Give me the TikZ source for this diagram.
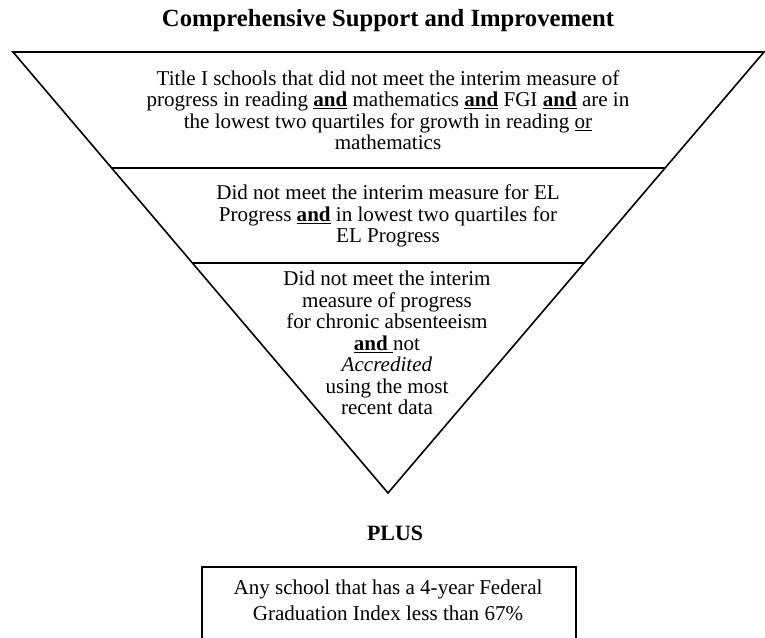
\documentclass[tikz,border=0pt]{standalone}
\usepackage{fontspec}
\setmainfont{Liberation Serif}
\usetikzlibrary{calc}

\tikzset{
  bodytext/.style={align=center,inner sep=0pt,font=\fontsize{15.8}{16.1}\selectfont},
  headtext/.style={inner sep=0pt,font=\fontsize{18.5}{20}\selectfont\bfseries},
}

\begin{document}
\begin{tikzpicture}[x=0.75pt,y=-0.75pt]
\useasboundingbox (0,0) rectangle (765,638);
\clip (0,0) rectangle (765,638);

\node[headtext] (title) at (388,21) {Comprehensive Support and Improvement};

% inverted triangle
\coordinate (tl) at (13,52);
\coordinate (tr) at (764,52);
\coordinate (apex) at (388,493);
\draw[line width=1.2pt,line join=miter] (tl) -- (tr) -- (apex) -- cycle;
\draw[line width=1.2pt] ($(tl)!0.263!(apex)$) -- ($(tr)!0.263!(apex)$);
\draw[line width=1.2pt] ($(tl)!0.478!(apex)$) -- ($(tr)!0.478!(apex)$);

\node[bodytext] (reading) at (388,110) {Title I schools that did not meet the interim measure of\\
  progress in reading \underline{\textbf{and}} mathematics \underline{\textbf{and}} FGI \underline{\textbf{and}} are in\\
  the lowest two quartiles for growth in reading \underline{or}\\
  mathematics};
\node[bodytext] (elprog) at (388,216) {Did not meet the interim measure for EL\\
  Progress \underline{\textbf{and}} in lowest two quartiles for\\
  EL Progress};
\node[bodytext] (absent) at (387,343) {Did not meet the interim\\
  measure of progress\\
  for chronic absenteeism\\
  \underline{\textbf{and}\ }not\\
  \textit{Accredited}\\
  using the most\\
  recent data};

\node[headtext,font=\fontsize{16.4}{18}\selectfont\bfseries] (plus) at (395,533) {PLUS};

\node[draw,line width=1.2pt,minimum width=374*0.75pt,minimum height=90*0.75pt,anchor=north] (gradbox) at (389,566) {};
\node[bodytext,font=\fontsize{15.8}{19.5}\selectfont] (gradtext) at (388,600) {Any school that has a 4-year Federal\\
  Graduation Index less than 67\%};
\end{tikzpicture}
\end{document}
